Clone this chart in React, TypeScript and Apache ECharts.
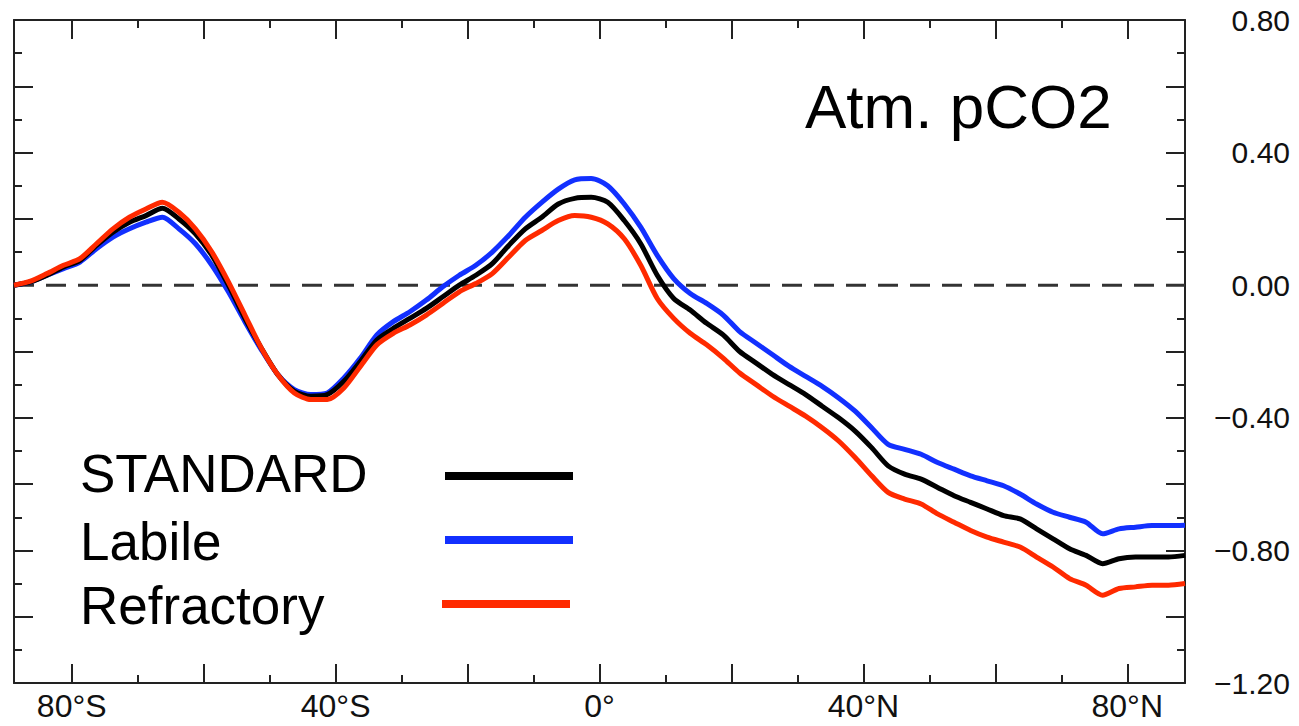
import React, { useEffect, useRef } from "react";
import * as echarts from "echarts";

const lats = [
  -88.75, -86.25, -83.75, -81.25, -78.75, -76.25, -73.75, -71.25, -68.75, -66.25,
  -63.75, -61.25, -58.75, -56.25, -53.75, -51.25, -48.75, -46.25, -43.75, -41.25,
  -38.75, -36.25, -33.75, -31.25, -28.75, -26.25, -23.75, -21.25, -18.75, -16.25,
  -13.75, -11.25, -8.75, -6.25, -3.75, -1.25, 1.25, 3.75, 6.25, 8.75,
  11.25, 13.75, 16.25, 18.75, 21.25, 23.75, 26.25, 28.75, 31.25, 33.75,
  36.25, 38.75, 41.25, 43.75, 46.25, 48.75, 51.25, 53.75, 56.25, 58.75,
  61.25, 63.75, 66.25, 68.75, 71.25, 73.75, 76.25, 78.75, 81.25, 83.75,
  86.25, 88.75,
];

const standard = [
  0.0, 0.01, 0.03, 0.055, 0.075, 0.12, 0.16, 0.19, 0.21, 0.232,
  0.2, 0.155, 0.09, 0.0, -0.1, -0.19, -0.27, -0.32, -0.335, -0.33,
  -0.29, -0.23, -0.165, -0.13, -0.1, -0.07, -0.035, 0.0, 0.03, 0.065,
  0.12, 0.17, 0.205, 0.245, 0.262, 0.265, 0.25, 0.195, 0.125, 0.03,
  -0.04, -0.075, -0.115, -0.15, -0.2, -0.235, -0.27, -0.3, -0.33, -0.365,
  -0.4, -0.44, -0.49, -0.545, -0.57, -0.585, -0.61, -0.635, -0.655, -0.675,
  -0.695, -0.705, -0.735, -0.765, -0.795, -0.815, -0.84, -0.825, -0.82, -0.82,
  -0.82, -0.815,
];

const labile = [
  0.0, 0.01, 0.03, 0.05, 0.07, 0.11, 0.145, 0.17, 0.19, 0.205,
  0.17, 0.125, 0.06, -0.02, -0.11, -0.195, -0.27, -0.315, -0.33, -0.325,
  -0.28, -0.22, -0.15, -0.11, -0.08, -0.045, -0.005, 0.03, 0.06, 0.1,
  0.15, 0.205, 0.25, 0.29, 0.318, 0.322, 0.3, 0.245, 0.175, 0.09,
  0.02, -0.025, -0.055, -0.09, -0.14, -0.175, -0.21, -0.245, -0.275, -0.305,
  -0.34, -0.38, -0.43, -0.48, -0.495, -0.51, -0.535, -0.555, -0.575, -0.59,
  -0.605, -0.63, -0.66, -0.685, -0.7, -0.715, -0.75, -0.735, -0.73, -0.725,
  -0.725, -0.724,
];

const refractory = [
  0.0, 0.012, 0.035, 0.06, 0.08, 0.125, 0.17, 0.205, 0.23, 0.25,
  0.22, 0.17, 0.1, 0.01, -0.09, -0.19, -0.27, -0.325, -0.345, -0.345,
  -0.31, -0.245, -0.18, -0.145, -0.12, -0.09, -0.055, -0.02, 0.005, 0.035,
  0.085, 0.135, 0.165, 0.195, 0.21, 0.205, 0.185, 0.14, 0.06, -0.04,
  -0.1, -0.145, -0.18, -0.22, -0.265, -0.3, -0.335, -0.365, -0.395, -0.43,
  -0.47, -0.52, -0.575, -0.625, -0.645, -0.66, -0.69, -0.715, -0.74, -0.76,
  -0.775, -0.79, -0.82, -0.85, -0.885, -0.905, -0.935, -0.915, -0.91, -0.905,
  -0.905, -0.9,
];

const xMajorTicks = [-80, -60, -40, -20, 0, 20, 40, 60, 80];
const xMinorTicks = [-70, -50, -30, -10, 10, 30, 50, 70];
const xLabelValues = [-80, -40, 0, 40, 80];
const seriesNames = ["STANDARD", "Labile", "Refractory"];
const seriesColors = ["#000000", "#1230ff", "#ff2a00"];
const plotTitle = "Atm. pCO2";

const FONT = "Liberation Sans, Arial, Helvetica, sans-serif";

function latLabel(v: number): string {
  if (Math.abs(v) < 1e-6) return "0°";
  return Math.abs(v) + "°" + (v < 0 ? "S" : "N");
}

export default function App() {
  const ref = useRef<HTMLDivElement>(null);
  useEffect(() => {
    if (!ref.current) return;
    const chart = echarts.init(ref.current, null, { renderer: "svg" });
    const tickStyle = { color: "#222", width: 2 };
    const axisLine = { show: true, onZero: false, lineStyle: { color: "#222", width: 2 } };
    const noLine = { show: false, onZero: false };
    const xBase = { type: "value", min: -88.75, max: 88.75, splitLine: { show: false } };
    const yBase = {
      type: "value",
      min: -1.2,
      max: 0.8,
      interval: 0.2,
      splitLine: { show: false },
      axisLine,
      axisTick: { show: true, inside: true, length: 19, lineStyle: tickStyle },
      minorTick: { show: true, splitNumber: 2, length: 8, lineStyle: tickStyle },
    };
    const data = (arr: number[]) => lats.map((l, i) => [l, arr[i]]);
    const values = [standard, labile, refractory];
    const drawOrder = [1, 0, 2];
    const legendY = [476, 540, 604];
    const legendLineX = [[445, 573], [445, 573], [442, 570]];
    const legendTextY = [473, 541, 605];

    chart.setOption({
      animation: false,
      backgroundColor: "#ffffff",
      grid: { left: 14, right: 114, top: 20, bottom: 43, containLabel: false },
      xAxis: [
        {
          ...xBase,
          position: "bottom",
          axisLine,
          axisTick: { show: true, inside: true, length: 19, customValues: xMajorTicks, lineStyle: tickStyle },
          axisLabel: {
            show: true,
            customValues: xLabelValues,
            formatter: (v: number) => latLabel(v),
            fontFamily: FONT,
            fontSize: 32,
            color: "#111",
            margin: 7,
          },
        },
        {
          ...xBase,
          position: "bottom",
          axisLine: noLine,
          axisTick: { show: true, inside: true, length: 8, customValues: xMinorTicks, lineStyle: tickStyle },
          axisLabel: { show: false },
        },
        {
          ...xBase,
          position: "top",
          axisLine,
          axisTick: { show: true, inside: true, length: 19, customValues: xMajorTicks, lineStyle: tickStyle },
          axisLabel: { show: false },
        },
        {
          ...xBase,
          position: "top",
          axisLine: noLine,
          axisTick: { show: true, inside: true, length: 8, customValues: xMinorTicks, lineStyle: tickStyle },
          axisLabel: { show: false },
        },
      ],
      yAxis: [
        { ...yBase, position: "left", axisLabel: { show: false } },
        {
          ...yBase,
          position: "right",
          axisLabel: {
            show: true,
            align: "right",
            margin: 105,
            fontFamily: FONT,
            fontSize: 30,
            color: "#111",
            formatter: (v: number) => {
              const k = Math.round(v * 10);
              if (Math.abs(k) % 4 !== 0) return "";
              return v.toFixed(2).replace("-", "\u2212");
            },
          },
        },
      ],
      series: [
        {
          type: "line",
          name: "zero",
          xAxisIndex: 0,
          yAxisIndex: 0,
          data: [[-88.75, 0], [88.75, 0]],
          showSymbol: false,
          silent: true,
          lineStyle: { color: "#333", width: 3, type: [20, 12] },
          z: 1,
        },
        ...drawOrder.map((i) => ({
          type: "line",
          name: seriesNames[i],
          xAxisIndex: 0,
          yAxisIndex: 0,
          data: data(values[i]),
          showSymbol: false,
          smooth: 0.25,
          lineStyle: { color: seriesColors[i], width: 5 },
          z: 2,
        })),
      ],
      graphic: [
        {
          type: "text",
          left: 805,
          top: 75,
          style: { text: plotTitle, fontFamily: FONT, fontSize: 62, fill: "#000" },
        },
        ...seriesNames.map((n, i) => ({
          type: "text",
          x: 80,
          y: legendTextY[i],
          style: { text: n, fontFamily: FONT, fontSize: 53, fill: "#000", verticalAlign: "middle" },
        })),
        ...seriesNames.map((n, i) => ({
          type: "line",
          shape: { x1: legendLineX[i][0], y1: legendY[i], x2: legendLineX[i][1], y2: legendY[i] },
          style: { stroke: seriesColors[i], lineWidth: 8 },
        })),
      ],
    });
    return () => chart.dispose();
  }, []);
  return (
    <div
      ref={ref}
      style={{ position: "absolute", left: 0, top: 0, width: 1299, height: 726, background: "#fff" }}
    />
  );
}
